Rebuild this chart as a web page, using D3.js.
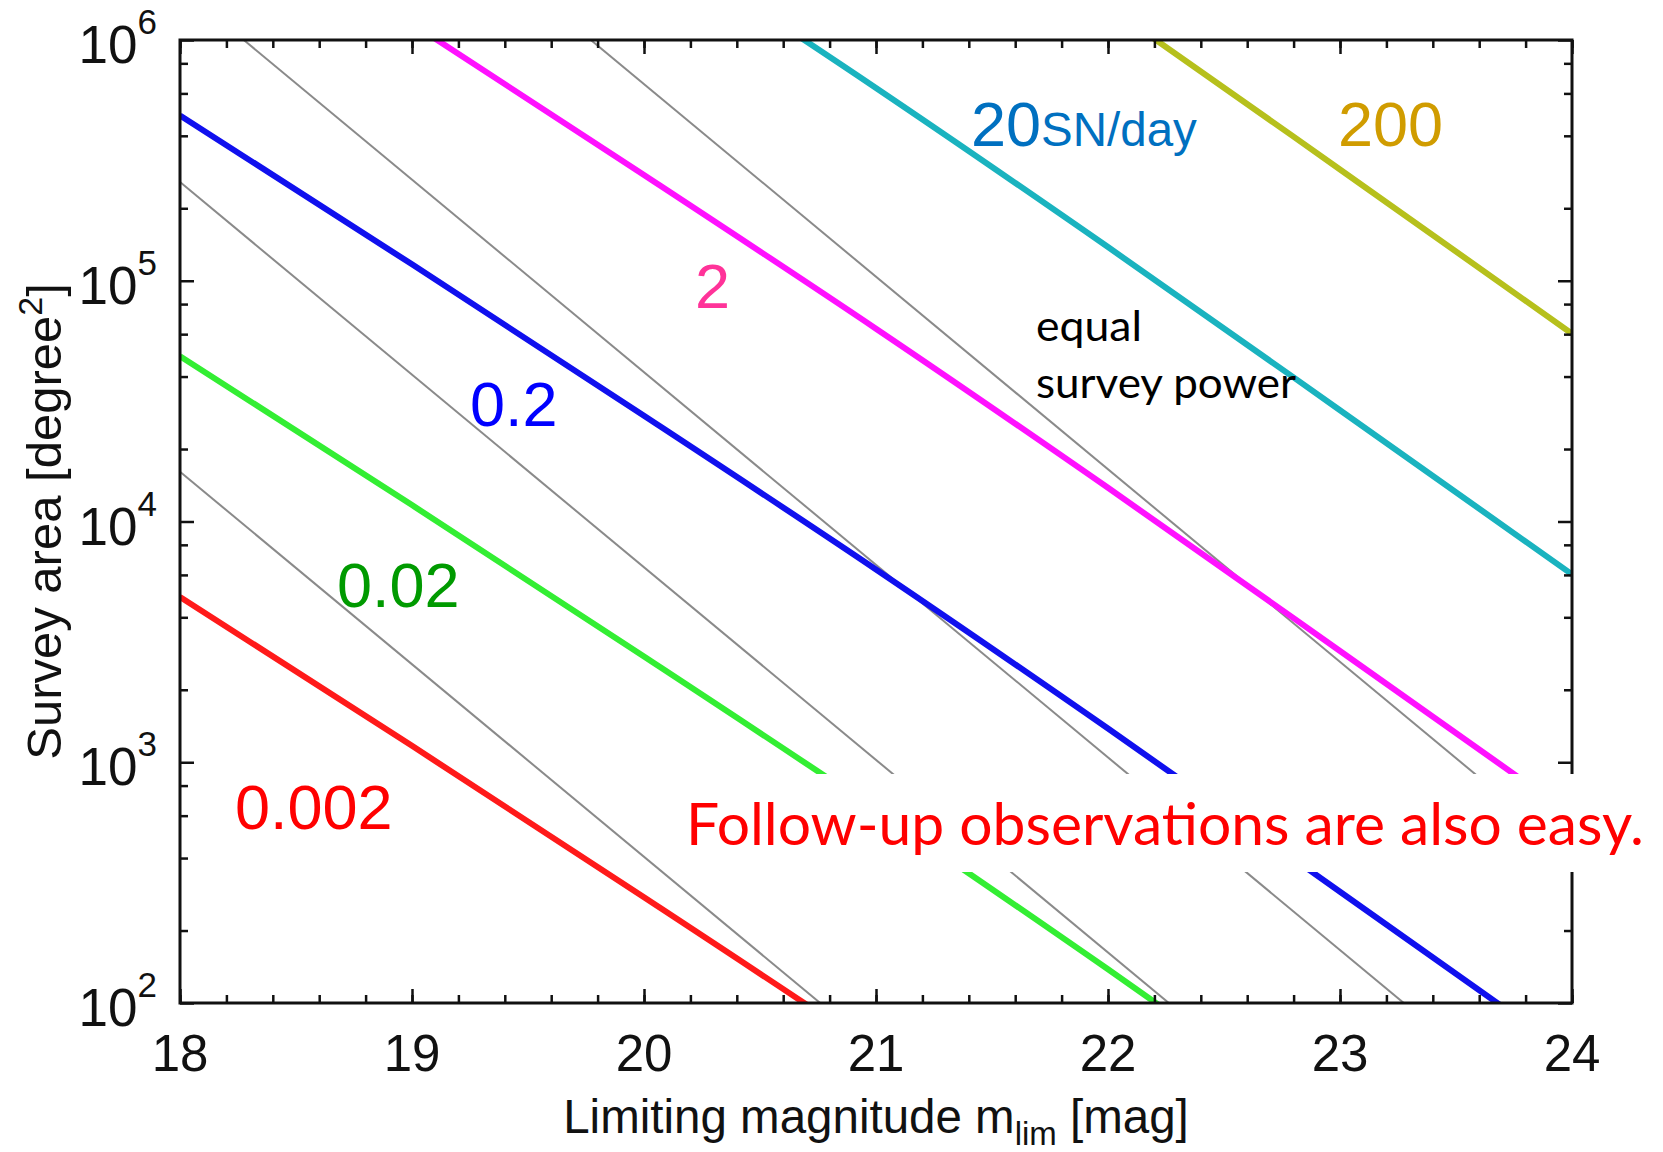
<!DOCTYPE html>
<html>
<head>
<meta charset="utf-8">
<script src="https://cdn.jsdelivr.net/npm/d3@7"></script>
<style>
  html, body { margin: 0; padding: 0; background: #fff; }
  svg { display: block; }
</style>
</head>
<body>
<svg id="chart" width="1663" height="1152"></svg>
<script>
// Limiting magnitude grid at which the constant-rate curves are sampled
const magnitudes = [18, 19, 20, 21, 22, 23, 24];

// Survey area [deg^2] giving a fixed supernova discovery rate (SN/day)
const area_0_002 = [4860, 1170, 275, 63.2, 13.8, 2.90, 0.60];
const area_0_02  = [48600, 11700, 2750, 632, 138, 29.0, 6.0];
const area_0_2   = [486000, 117000, 27500, 6320, 1380, 290, 60.3];
const area_2     = [4860000, 1170000, 275000, 63200, 13800, 2900, 603];
const area_20    = [48600000, 11700000, 2750000, 632000, 138000, 29000, 6030];
const area_200   = [486000000, 117000000, 27500000, 6320000, 1380000, 290000, 60300];

const rateSeries = [
  { name: "0.002", area: area_0_002, color: "#ff1a1a" },
  { name: "0.02",  area: area_0_02,  color: "#33ee33" },
  { name: "0.2",   area: area_0_2,   color: "#1010ee" },
  { name: "2",     area: area_2,     color: "#ff11ff" },
  { name: "20",    area: area_20,    color: "#1ab3bf" },
  { name: "200",   area: area_200,   color: "#b6c01c" }
];

// Lines of equal survey power: [magnitude, area] end points
const powerMags  = [18, 24];
const powerLine1 = [16100, 0.256];
const powerLine2 = [257000, 4.07];
const powerLine3 = [1660000, 26.3];
const powerLine4 = [26100000, 414];
const powerLines = [powerLine1, powerLine2, powerLine3, powerLine4];

// Axis tick values
const xTicks = [18, 19, 20, 21, 22, 23, 24];
const xMinorTicks = d3.range(18, 24.001, 0.2);
const yTicks = [1e2, 1e3, 1e4, 1e5, 1e6];
const yExponents = ["2", "3", "4", "5", "6"];
const yMinorTicks = [];
for (let e = 2; e < 6; e++) for (const k of [2, 4, 6, 8]) yMinorTicks.push(k * Math.pow(10, e));

const svg = d3.select("#chart");
const W = 1663, H = 1152;
const plot = { left: 180, right: 1572, top: 40, bottom: 1003 };

const x = d3.scaleLinear().domain([18, 24]).range([plot.left, plot.right]);
const y = d3.scaleLog().domain([1e2, 1e6]).range([plot.bottom, plot.top]);

svg.append("rect").attr("width", W).attr("height", H).attr("fill", "#fff");

svg.append("clipPath").attr("id", "plotClip")
  .append("rect")
  .attr("x", plot.left).attr("y", plot.top)
  .attr("width", plot.right - plot.left).attr("height", plot.bottom - plot.top);

const lines = svg.append("g").attr("clip-path", "url(#plotClip)");

const straight = d3.line().x(d => x(d[0])).y(d => y(d[1]));
lines.selectAll("path.power").data(powerLines).join("path")
  .attr("class", "power")
  .attr("d", a => straight(powerMags.map((m, i) => [m, a[i]])))
  .attr("fill", "none").attr("stroke", "#8a8a8a").attr("stroke-width", 2);

const smooth = d3.line().x(d => x(d[0])).y(d => y(d[1])).curve(d3.curveMonotoneX);
lines.selectAll("path.rate").data(rateSeries).join("path")
  .attr("class", "rate")
  .attr("d", s => smooth(magnitudes.map((m, i) => [m, s.area[i]])))
  .attr("fill", "none").attr("stroke", s => s.color).attr("stroke-width", 6);

// Inward ticks on all four sides
const axes = svg.append("g");
function tickAxis(axisFn, scale, ticks, size, tx, ty) {
  const g = axes.append("g").attr("transform", `translate(${tx},${ty})`)
    .call(axisFn(scale).tickValues(ticks).tickSize(size).tickFormat(""));
  g.select(".domain").remove();
  g.selectAll(".tick line").attr("stroke", "#111").attr("stroke-width", 2.5);
}
tickAxis(d3.axisBottom, x, xTicks, -14, 0, plot.bottom);
tickAxis(d3.axisBottom, x, xMinorTicks, -8, 0, plot.bottom);
tickAxis(d3.axisTop, x, xTicks, -14, 0, plot.top);
tickAxis(d3.axisTop, x, xMinorTicks, -8, 0, plot.top);
tickAxis(d3.axisLeft, y, yTicks, -14, plot.left, 0);
tickAxis(d3.axisLeft, y, yMinorTicks, -8, plot.left, 0);
tickAxis(d3.axisRight, y, yTicks, -14, plot.right, 0);
tickAxis(d3.axisRight, y, yMinorTicks, -8, plot.right, 0);

svg.append("rect")
  .attr("x", plot.left).attr("y", plot.top)
  .attr("width", plot.right - plot.left).attr("height", plot.bottom - plot.top)
  .attr("fill", "none").attr("stroke", "#111").attr("stroke-width", 3);

const arial = "'Liberation Sans', Arial, Helvetica, sans-serif";
const humanist = "Lato, 'Open Sans', sans-serif";

// X tick labels
svg.append("g").selectAll("text").data(xTicks).join("text")
  .attr("x", d => x(d)).attr("y", plot.bottom + 68)
  .attr("text-anchor", "middle")
  .attr("font-family", arial).attr("font-size", 51).attr("fill", "#111")
  .text(d => d);

// Y tick labels as powers of ten
const yLab = svg.append("g").selectAll("text").data(yTicks).join("text")
  .attr("x", 157).attr("y", d => y(d) + 23)
  .attr("text-anchor", "end")
  .attr("font-family", arial).attr("font-size", 53).attr("fill", "#111");
yLab.append("tspan").text("10");
yLab.append("tspan").attr("dy", -29).attr("font-size", 35).text((d, i) => yExponents[i]);

// Axis titles
const xt = svg.append("text")
  .attr("x", (plot.left + plot.right) / 2).attr("y", 1133)
  .attr("text-anchor", "middle")
  .attr("font-family", arial).attr("font-size", 47.5).attr("fill", "#111");
xt.append("tspan").text("Limiting magnitude m");
xt.append("tspan").attr("dy", 12).attr("font-size", 33).text("lim");
xt.append("tspan").attr("dy", -12).text(" [mag]");

const yt = svg.append("text")
  .attr("transform", `translate(61,${(plot.top + plot.bottom) / 2}) rotate(-90)`)
  .attr("text-anchor", "middle")
  .attr("font-family", arial).attr("font-size", 49).attr("fill", "#111");
yt.append("tspan").text("Survey area [degree");
yt.append("tspan").attr("dy", -19).attr("font-size", 34).text("2");
yt.append("tspan").attr("dy", 19).text("]");

// Rate labels
const rateLabels = [
  { text: "0.002", x: 235, y: 829, color: "#ff0000" },
  { text: "0.02",  x: 337, y: 607, color: "#009a00" },
  { text: "0.2",   x: 470, y: 426, color: "#0000ff" },
  { text: "2",     x: 695, y: 308, color: "#ff3399" },
  { text: "200",   x: 1338, y: 146, color: "#d09c00" }
];
svg.append("g").selectAll("text").data(rateLabels).join("text")
  .attr("x", d => d.x).attr("y", d => d.y)
  .attr("font-family", arial).attr("font-size", 63).attr("fill", d => d.color)
  .text(d => d.text);

const unitLabel = svg.append("text")
  .attr("x", 971).attr("y", 146)
  .attr("font-family", arial).attr("fill", "#0070c0");
unitLabel.append("tspan").attr("font-size", 63).text("20");
unitLabel.append("tspan").attr("font-size", 47.5).text("SN/day");

// Annotation for the grey lines
svg.append("text").attr("x", 1036).attr("y", 341)
  .attr("font-family", humanist).attr("font-size", 42).attr("fill", "#000")
  .attr("textLength", 106).attr("lengthAdjust", "spacingAndGlyphs")
  .text("equal");
svg.append("text").attr("x", 1036).attr("y", 398)
  .attr("font-family", humanist).attr("font-size", 42).attr("fill", "#000")
  .attr("textLength", 260).attr("lengthAdjust", "spacingAndGlyphs")
  .text("survey power");

// Boxed remark
svg.append("rect").attr("x", 672).attr("y", 774)
  .attr("width", W - 672).attr("height", 98).attr("fill", "#fff");
svg.append("text").attr("x", 686).attr("y", 845)
  .attr("font-family", humanist).attr("font-size", 59).attr("fill", "#ff0000")
  .attr("textLength", 958).attr("lengthAdjust", "spacingAndGlyphs")
  .text("Follow-up observations are also easy.");
</script>
</body>
</html>
